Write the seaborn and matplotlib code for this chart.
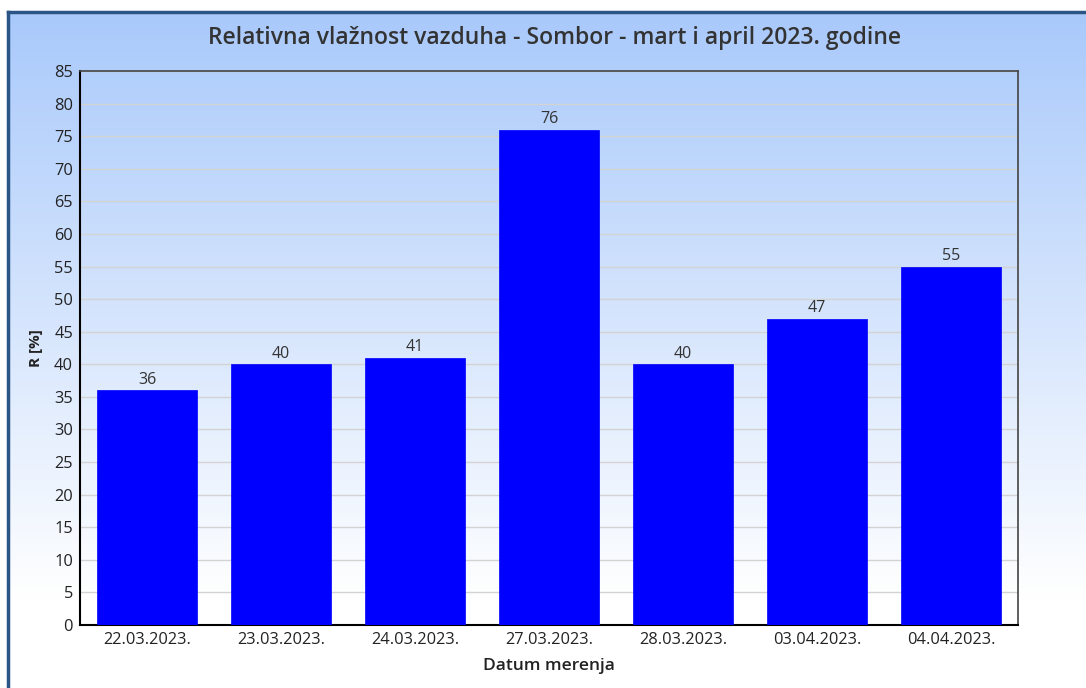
import numpy as np
import pandas as pd
import matplotlib
matplotlib.use('Agg')
import matplotlib.pyplot as plt
import seaborn as sns
from matplotlib.colors import LinearSegmentedColormap

dates = ['22.03.2023.', '23.03.2023.', '24.03.2023.', '27.03.2023.',
         '28.03.2023.', '03.04.2023.', '04.04.2023.']
humidity = [36, 40, 41, 76, 40, 47, 55]

df = pd.DataFrame({'datum': dates, 'R': humidity})

sns.set_style('white')
plt.rcParams['font.family'] = ['Open Sans', 'DejaVu Sans']

fig = plt.figure(figsize=(10.86, 6.88), dpi=100)
fig.patch.set_facecolor('white')

# gradient background panel with border
bg = fig.add_axes([8/1086, 0, 1 - 8/1086, 1 - 12/688], zorder=-10)
cmap = LinearSegmentedColormap.from_list('bg', [(0, '#a9c9fb'), (0.87, '#ffffff'), (1, '#ffffff')])
grad = np.linspace(0, 1, 256).reshape(-1, 1)
bg.imshow(grad, aspect='auto', cmap=cmap, extent=[0, 1, 0, 1], origin='upper')
bg.set_xticks([])
bg.set_yticks([])
for side in ['right', 'bottom']:
    bg.spines[side].set_visible(False)
for side in ['left', 'top']:
    bg.spines[side].set_color('#2b5584')
    bg.spines[side].set_linewidth(2.5)

ax = fig.add_axes([80/1086, 1 - 625/688, 938/1086, 554/688])
ax.patch.set_alpha(0)

sns.barplot(data=df, x='datum', y='R', color='#0000ff', saturation=1,
            width=0.745, ax=ax, zorder=3, edgecolor='#0000ff', linewidth=0.5)

ax.set_xlim(-0.5, 6.5)
ax.set_ylim(0, 85)
ax.set_yticks(range(0, 86, 5))
ax.yaxis.grid(True, color='#d3d3d3', lw=1, zorder=0)
ax.set_axisbelow(True)

for i, v in enumerate(humidity):
    ax.text(i, v + 0.4, str(v), ha='center', va='bottom', fontsize=11.5, color='#333333')

ax.tick_params(axis='both', labelsize=11.8, length=0, pad=5)
ax.tick_params(axis='both', labelcolor='#222222')
for side in ['left', 'bottom']:
    ax.spines[side].set_color('black')
    ax.spines[side].set_linewidth(1.5)
for side in ['top', 'right']:
    ax.spines[side].set_color('#444444')
    ax.spines[side].set_linewidth(1.2)

ax.set_xlabel('Datum merenja', fontsize=12.5, fontweight='semibold', color='#222222', labelpad=7)
ax.set_ylabel('R [%]', fontsize=11, fontweight='bold', color='#222222', labelpad=8)
fig.text(555/1086, 1 - 38/688, 'Relativna vlažnost vazduha - Sombor - mart i april 2023. godine',
         ha='center', va='center', fontsize=16.5, fontweight='semibold', color='#333333')

fig.savefig('out.png', dpi=100)
